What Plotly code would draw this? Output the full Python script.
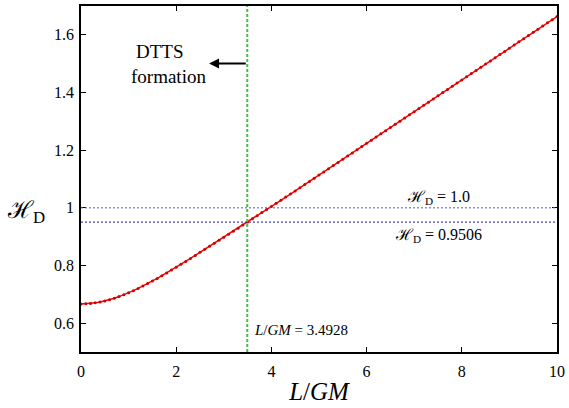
import plotly.graph_objects as go

# ---- data ----
l_over_gm = [round(i * 0.1, 1) for i in range(101)]
h_d = [
    0.6667, 0.6671, 0.6684, 0.6704, 0.6733, 0.6770, 0.6814, 0.6865, 0.6922, 0.6985,
    0.7054, 0.7127, 0.7205, 0.7287, 0.7372, 0.7461, 0.7553, 0.7646, 0.7742, 0.7840,
    0.7940, 0.8041, 0.8143, 0.8246, 0.8351, 0.8456, 0.8561, 0.8668, 0.8775, 0.8877,
    0.8980, 0.9083, 0.9186, 0.9294, 0.9403, 0.9512, 0.9621, 0.9725, 0.9835, 0.9939,
    1.0049, 1.0158, 1.0263, 1.0372, 1.0477, 1.0587, 1.0697, 1.0807, 1.0916, 1.1026,
    1.1136, 1.1246, 1.1356, 1.1466, 1.1576, 1.1686, 1.1796, 1.1906, 1.2016, 1.2126,
    1.2236, 1.2346, 1.2456, 1.2566, 1.2676, 1.2786, 1.2896, 1.3006, 1.3116, 1.3226,
    1.3336, 1.3446, 1.3556, 1.3666, 1.3776, 1.3886, 1.3996, 1.4106, 1.4216, 1.4326,
    1.4436, 1.4546, 1.4656, 1.4766, 1.4876, 1.4986, 1.5096, 1.5206, 1.5316, 1.5426,
    1.5536, 1.5646, 1.5756, 1.5866, 1.5976, 1.6086, 1.6196, 1.6306, 1.6416, 1.6526,
    1.6636,
]
h_ref_1 = 1.0
h_ref_2 = 0.9506
l_crit = 3.4928

x_tickvals = [0, 2, 4, 6, 8, 10]
x_ticktext = ["0", "2", "4", "6", "8", "10"]
y_tickvals = [0.6, 0.8, 1.0, 1.2, 1.4, 1.6]
y_ticktext = ["0.6", "0.8", "1", "1.2", "1.4", "1.6"]

x_range = [0, 10]
y_range = [0.5, 1.7]

SERIF = "Liberation Serif"

fig = go.Figure()

fig.add_trace(go.Scatter(
    x=l_over_gm, y=h_d, mode="lines+markers",
    line=dict(color="#ff0000", width=1.5),
    marker=dict(color="#d00000", size=3),
    showlegend=False, hoverinfo="skip",
))

# reference lines
fig.add_shape(type="line", xref="x", yref="y", x0=x_range[0], x1=x_range[1],
              y0=h_ref_1, y1=h_ref_1,
              line=dict(color="#5555cc", width=1, dash="2px,2px"))
fig.add_shape(type="line", xref="x", yref="y", x0=x_range[0], x1=x_range[1],
              y0=h_ref_2, y1=h_ref_2,
              line=dict(color="#1a1a99", width=1, dash="2px,2px"))
fig.add_shape(type="line", xref="x", yref="y", x0=l_crit, x1=l_crit,
              y0=y_range[0], y1=y_range[1],
              line=dict(color="#4cbb4c", width=2, dash="3px,2px"))

# annotations
fig.add_annotation(x=2.69, y=1.501, ax=l_crit, ay=1.501, xref="x", yref="y",
                   axref="x", ayref="y", text="", showarrow=True,
                   arrowhead=2, arrowsize=1, arrowwidth=2, arrowcolor="black")
fig.add_annotation(x=1.67, y=1.541, xref="x", yref="y", text="DTTS",
                   showarrow=False, font=dict(family=SERIF, size=19, color="black"))
fig.add_annotation(x=1.83, y=1.455, xref="x", yref="y", text="formation",
                   showarrow=False, font=dict(family=SERIF, size=19, color="black"))
fig.add_annotation(x=7.5, y=1.036, xref="x", yref="y",
                   text="ℋ<sub>D</sub> = 1.0",
                   showarrow=False, font=dict(family=SERIF, size=16, color="black"))
fig.add_annotation(x=7.5, y=0.905, xref="x", yref="y",
                   text="ℋ<sub>D</sub> = 0.9506",
                   showarrow=False, font=dict(family=SERIF, size=16, color="black"))
fig.add_annotation(x=3.6, y=0.576, xref="x", yref="y", xanchor="left",
                   text="<i>L</i>/<i>GM</i> = 3.4928",
                   showarrow=False, font=dict(family=SERIF, size=15, color="black"))

axis_common = dict(
    showline=True, linecolor="black", linewidth=1.5, mirror="ticks",
    ticks="inside", ticklen=5, tickwidth=1, tickcolor="black",
    showgrid=False, zeroline=False,
    tickfont=dict(family=SERIF, size=16, color="black"),
)

fig.update_xaxes(range=x_range, tickvals=x_tickvals, ticktext=x_ticktext,
                 title=dict(text="<i>L</i>/<i>GM</i>", font=dict(family=SERIF, size=25, color="black"),
                            standoff=4),
                 ticklabelstandoff=4, **axis_common)
fig.update_yaxes(range=y_range, tickvals=y_tickvals, ticktext=y_ticktext,
                 ticklabelstandoff=2, **axis_common)
fig.add_annotation(x=0, xref="paper", xshift=-34, y=1.0, yref="y", yshift=-4,
                   xanchor="right",
                   text="ℋ<sub>D</sub>", showarrow=False,
                   font=dict(family=SERIF, size=24, color="black"))

fig.update_layout(
    width=569, height=408,
    margin=dict(l=81, r=8, t=4, b=56),
    paper_bgcolor="white", plot_bgcolor="white",
    showlegend=False,
)

fig.write_html("out.html", config={"displayModeBar": False},
               post_script="document.body.style.margin='0';document.body.style.overflow='hidden';")
